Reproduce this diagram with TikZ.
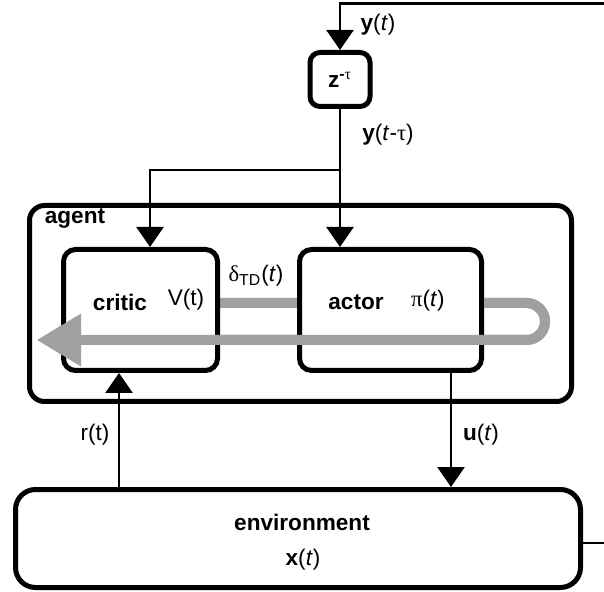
\documentclass[tikz,border=0pt]{standalone}
\usepackage{fontspec}
\setmainfont{Liberation Sans}
\newfontfamily\grk{Liberation Serif}
\usetikzlibrary{arrows.meta}
\definecolor{loopgray}{RGB}{160,160,160}
\begin{document}
\begin{tikzpicture}[x=0.5pt,y=-0.5pt,
  font=\fontsize{11.3}{13.5}\selectfont,
  blk/.style={draw, line width=2.5pt, fill=white, inner sep=0pt},
  conn/.style={line width=1.3pt},
  tip/.style={-{Triangle[width=13.5pt,length=10pt]}},
  tdloop/.style={draw=loopgray, line width=5pt, rounded corners=9.25pt},
  looptip/.style={-{Triangle[width=25pt,length=22pt]}},
  lbl/.style={inner sep=0pt, anchor=center}]
\path[use as bounding box] (0,0) rectangle (604,592);

% blocks
\node[blk, rounded corners=5pt, minimum width=30pt, minimum height=27pt] (zbox) at (340,79.5) {};
\node[blk, rounded corners=7.5pt, minimum width=271pt, minimum height=98pt] (agent) at (300.5,303.5) {};
\node[blk, rounded corners=10pt, minimum width=282.5pt, minimum height=49pt] (env) at (298,538.5) {};

% TD error loop, lower layer (hidden under the boxes)
\coordinate (tdA) at (220,303);
\coordinate (tdB) at (545,303);
\coordinate (tdC) at (545,340);
\coordinate (tdD) at (37,340);
\coordinate (tdE) at (484,303);
\draw[tdloop, looptip] (tdA) -- (tdB) -- (tdC) -- (tdD);

\node[blk, rounded corners=6pt, minimum width=77pt, minimum height=60.5pt] (critic) at (140.5,310) {};
\node[blk, rounded corners=6pt, minimum width=91pt, minimum height=60.5pt] (actor) at (390.5,310) {};

% TD error loop, upper layer (over the boxes)
\draw[tdloop, looptip] (tdE) -- (tdB) -- (tdC) -- (tdD);

% signal flow
\coordinate (split) at (340,170);
\coordinate (critin) at (150,0);
\coordinate (rx) at (119,0);
\coordinate (ux) at (451,0);
\coordinate (topy) at (0,3.5);
\draw[conn] (zbox.south) -- (split);
\draw[conn, tip] (split) -| (critic.north -| critin);
\draw[conn, tip] (split) -- (split |- actor.north);
\draw[conn, tip] (env.north -| rx) -- (critic.south -| rx);
\draw[conn, tip] (actor.south -| ux) -- (env.north -| ux);
\draw[conn, tip] ([yshift=-2.25pt]env.east) -- ++(12pt,0) |- (zbox.north |- topy) -- (zbox.north);

% labels
\node[lbl] (zlbl) at (zbox.center) {\textbf{z}\textsuperscript{\textbf{-}{\grk τ}}};
\node[lbl] (ylbl) at (378,25) {\textbf{y}(\textit{t})};
\node[lbl] (ydlbl) at (388,135) {\textbf{y}(\textit{t}-{\grk τ})};
\node[lbl] (agentlbl) at (75,219) {\textbf{agent}};
\node[lbl] (criticlbl) at (120,302) {\textbf{critic}};
\node[lbl] (vlbl) at (186,300) {V(t)};
\node[lbl] (tdlbl) at (256,276) {{\grk δ}\textsubscript{TD}(\textit{t})};
\node[lbl] (actorlbl) at (356,302) {\textbf{actor}};
\node[lbl] (pilbl) at (428,301) {{\grk π}(\textit{t})};
\node[lbl] (rlbl) at (95,435) {r(t)};
\node[lbl] (ulbl) at (481,435) {\textbf{u}(\textit{t})};
\node[lbl] (envlbl) at (302,522) {\textbf{environment}};
\node[lbl] (xlbl) at (303,560) {\textbf{x}(\textit{t})};
\end{tikzpicture}
\end{document}
